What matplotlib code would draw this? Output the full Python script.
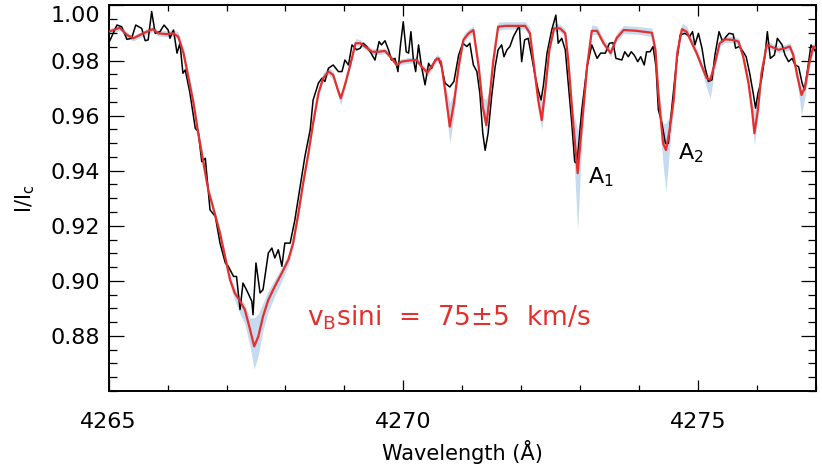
import matplotlib
matplotlib.use("Agg")
import matplotlib.pyplot as plt
import matplotlib.transforms as mtransforms
from matplotlib.ticker import MultipleLocator

# observed spectrum (black)
obs_wave = [4265.00, 4265.14, 4265.22, 4265.31, 4265.39, 4265.46, 4265.56, 4265.62,
            4265.67, 4265.73, 4265.79, 4265.87, 4265.94, 4266.01, 4266.04, 4266.10,
            4266.16, 4266.21, 4266.26, 4266.30, 4266.38, 4266.47, 4266.52, 4266.58,
            4266.64, 4266.72, 4266.81, 4266.89, 4266.98, 4267.03, 4267.12, 4267.17,
            4267.23, 4267.28, 4267.34, 4267.43, 4267.45, 4267.50, 4267.57, 4267.62,
            4267.71, 4267.77, 4267.82, 4267.88, 4267.94, 4267.99, 4268.08, 4268.16,
            4268.25, 4268.33, 4268.42, 4268.47, 4268.56, 4268.62, 4268.67, 4268.73,
            4268.81, 4268.90, 4268.96, 4269.01, 4269.07, 4269.13, 4269.21, 4269.27,
            4269.32, 4269.38, 4269.44, 4269.52, 4269.59, 4269.63, 4269.69, 4269.75,
            4269.80, 4269.86, 4269.91, 4269.95, 4270.00, 4270.05, 4270.09, 4270.13,
            4270.17, 4270.21, 4270.26, 4270.31, 4270.37, 4270.43, 4270.48, 4270.54,
            4270.60, 4270.65, 4270.71, 4270.79, 4270.86, 4270.94, 4271.01, 4271.08,
            4271.13, 4271.19, 4271.25, 4271.30, 4271.35, 4271.39, 4271.44, 4271.50,
            4271.56, 4271.61, 4271.67, 4271.71, 4271.76, 4271.81, 4271.87, 4271.93,
            4271.97, 4272.01, 4272.06, 4272.12, 4272.18, 4272.24, 4272.29, 4272.34,
            4272.38, 4272.44, 4272.52, 4272.59, 4272.63, 4272.69, 4272.75, 4272.80,
            4272.86, 4272.91, 4272.95, 4273.03, 4273.12, 4273.20, 4273.29, 4273.35,
            4273.43, 4273.50, 4273.56, 4273.61, 4273.71, 4273.76, 4273.82, 4273.87,
            4273.92, 4273.98, 4274.03, 4274.09, 4274.13, 4274.19, 4274.24, 4274.29,
            4274.33, 4274.39, 4274.45, 4274.50, 4274.56, 4274.63, 4274.70, 4274.78,
            4274.86, 4274.91, 4274.95, 4275.01, 4275.07, 4275.12, 4275.18, 4275.24,
            4275.29, 4275.36, 4275.42, 4275.48, 4275.53, 4275.60, 4275.64, 4275.70,
            4275.77, 4275.82, 4275.88, 4275.94, 4275.98, 4276.02, 4276.08, 4276.14,
            4276.18, 4276.23, 4276.30, 4276.35, 4276.43, 4276.48, 4276.54, 4276.60,
            4276.65, 4276.71, 4276.77, 4276.81, 4276.87, 4276.92, 4277.00]
obs_flux = [0.9863, 0.9929, 0.9923, 0.9877, 0.9881, 0.9929, 0.9917, 0.9872,
            0.9875, 0.9978, 0.9899, 0.9905, 0.9929, 0.9911, 0.9881, 0.9911,
            0.9827, 0.9863, 0.9754, 0.9766, 0.9681, 0.9554, 0.9542, 0.9433,
            0.9445, 0.9258, 0.9234, 0.9137, 0.9065, 0.9053, 0.9016, 0.9016,
            0.8896, 0.8992, 0.8967, 0.8926, 0.8877, 0.9065, 0.8956, 0.8968,
            0.9101, 0.9119, 0.9083, 0.9113, 0.9053, 0.9137, 0.9137, 0.9221,
            0.9343, 0.9451, 0.9548, 0.9657, 0.9718, 0.9736, 0.9724, 0.9772,
            0.9784, 0.9760, 0.9760, 0.9802, 0.9784, 0.9857, 0.9839, 0.9845,
            0.9863, 0.9851, 0.9832, 0.9802, 0.9869, 0.9857, 0.9872, 0.9839,
            0.9802, 0.9808, 0.9760, 0.9851, 0.9941, 0.9832, 0.9827, 0.9905,
            0.9808, 0.9760, 0.9857, 0.9778, 0.9712, 0.9790, 0.9772, 0.9802,
            0.9808, 0.9778, 0.9718, 0.9704, 0.9724, 0.9820, 0.9863, 0.9851,
            0.9863, 0.9784, 0.9760, 0.9681, 0.9536, 0.9474, 0.9536, 0.9669,
            0.9778, 0.9839, 0.9857, 0.9814, 0.9839, 0.9851, 0.9887, 0.9911,
            0.9926, 0.9796, 0.9875, 0.9881, 0.9814, 0.9742, 0.9693, 0.9657,
            0.9712, 0.9827, 0.9911, 0.9965, 0.9863, 0.9881, 0.9839, 0.9718,
            0.9573, 0.9432, 0.9427, 0.9621, 0.9778, 0.9857, 0.9808, 0.9827,
            0.9827, 0.9863, 0.9865, 0.9808, 0.9802, 0.9832, 0.9814, 0.9832,
            0.9820, 0.9796, 0.9814, 0.9784, 0.9832, 0.9832, 0.9851, 0.9778,
            0.9621, 0.9573, 0.9499, 0.9499, 0.9633, 0.9778, 0.9893, 0.9899,
            0.9887, 0.9905, 0.9857, 0.9899, 0.9845, 0.9778, 0.9724, 0.9730,
            0.9820, 0.9905, 0.9869, 0.9887, 0.9899, 0.9896, 0.9845, 0.9851,
            0.9832, 0.9814, 0.9754, 0.9681, 0.9627, 0.9681, 0.9730, 0.9820,
            0.9905, 0.9808, 0.9820, 0.9881, 0.9857, 0.9820, 0.9796, 0.9808,
            0.9784, 0.9778, 0.9718, 0.9693, 0.9778, 0.9857, 0.9832]

# best-fit model (red) with its uncertainty band (blue)
mod_wave = [4265.00, 4265.08, 4265.19, 4265.31, 4265.42, 4265.53, 4265.65, 4265.75,
            4265.84, 4265.98, 4266.10, 4266.18, 4266.27, 4266.35, 4266.44, 4266.52,
            4266.61, 4266.69, 4266.80, 4266.89, 4266.98, 4267.06, 4267.14, 4267.23,
            4267.31, 4267.40, 4267.47, 4267.54, 4267.62, 4267.71, 4267.82, 4267.94,
            4268.05, 4268.13, 4268.22, 4268.30, 4268.39, 4268.47, 4268.56, 4268.64,
            4268.73, 4268.81, 4268.88, 4268.94, 4269.01, 4269.10, 4269.19, 4269.27,
            4269.35, 4269.47, 4269.58, 4269.69, 4269.78, 4269.89, 4269.97, 4270.09,
            4270.23, 4270.31, 4270.41, 4270.48, 4270.57, 4270.64, 4270.71, 4270.79,
            4270.86, 4270.94, 4271.02, 4271.11, 4271.19, 4271.28, 4271.35, 4271.41,
            4271.46, 4271.53, 4271.61, 4271.73, 4271.93, 4272.07, 4272.15, 4272.22,
            4272.29, 4272.35, 4272.41, 4272.48, 4272.56, 4272.66, 4272.75, 4272.80,
            4272.88, 4272.96, 4273.03, 4273.12, 4273.20, 4273.29, 4273.40, 4273.52,
            4273.62, 4273.74, 4273.96, 4274.22, 4274.28, 4274.33, 4274.41, 4274.46,
            4274.52, 4274.59, 4274.65, 4274.73, 4274.81, 4274.90, 4274.98, 4275.07,
            4275.15, 4275.21, 4275.29, 4275.37, 4275.46, 4275.60, 4275.69, 4275.77,
            4275.86, 4275.92, 4275.96, 4276.02, 4276.08, 4276.17, 4276.26, 4276.37,
            4276.48, 4276.56, 4276.62, 4276.69, 4276.76, 4276.82, 4276.89, 4276.96,
            4277.01]
mod_flux = [0.9905, 0.9911, 0.9919, 0.9893, 0.9881, 0.9893, 0.9905, 0.9914,
            0.9899, 0.9896, 0.9899, 0.9887, 0.9827, 0.9742, 0.9645, 0.9536,
            0.9427, 0.9330, 0.9245, 0.9173, 0.9083, 0.9004, 0.8956, 0.8926,
            0.8896, 0.8823, 0.8762, 0.8798, 0.8871, 0.8931, 0.8980, 0.9029,
            0.9077, 0.9137, 0.9245, 0.9354, 0.9463, 0.9573, 0.9681, 0.9736,
            0.9760, 0.9748, 0.9700, 0.9663, 0.9712, 0.9784, 0.9863, 0.9863,
            0.9851, 0.9832, 0.9832, 0.9835, 0.9814, 0.9784, 0.9796, 0.9800,
            0.9802, 0.9778, 0.9756, 0.9778, 0.9808, 0.9796, 0.9693, 0.9560,
            0.9645, 0.9778, 0.9875, 0.9899, 0.9911, 0.9778, 0.9633, 0.9565,
            0.9657, 0.9802, 0.9923, 0.9926, 0.9926, 0.9926, 0.9899, 0.9778,
            0.9657, 0.9584, 0.9693, 0.9839, 0.9917, 0.9917, 0.9899, 0.9802,
            0.9584, 0.9391, 0.9560, 0.9778, 0.9908, 0.9908, 0.9863, 0.9827,
            0.9881, 0.9911, 0.9908, 0.9901, 0.9839, 0.9681, 0.9499, 0.9475,
            0.9547, 0.9657, 0.9827, 0.9914, 0.9905, 0.9863, 0.9827, 0.9778,
            0.9736, 0.9730, 0.9790, 0.9863, 0.9877, 0.9875, 0.9869, 0.9814,
            0.9718, 0.9621, 0.9536, 0.9621, 0.9754, 0.9857, 0.9849, 0.9839,
            0.9845, 0.9851, 0.9820, 0.9742, 0.9675, 0.9705, 0.9790, 0.9851,
            0.9845]
band_lo = [0.9895, 0.9901, 0.9909, 0.9883, 0.9871, 0.9883, 0.9895, 0.9904,
           0.9889, 0.9886, 0.9889, 0.9877, 0.9817, 0.9732, 0.9635, 0.9526,
           0.9417, 0.9320, 0.9235, 0.9160, 0.9065, 0.8985, 0.8930, 0.8880,
           0.8845, 0.8760, 0.8680, 0.8730, 0.8820, 0.8890, 0.8945, 0.9000,
           0.9055, 0.9120, 0.9230, 0.9340, 0.9450, 0.9560, 0.9668, 0.9725,
           0.9748, 0.9733, 0.9680, 0.9638, 0.9695, 0.9772, 0.9853, 0.9853,
           0.9841, 0.9822, 0.9822, 0.9825, 0.9804, 0.9774, 0.9786, 0.9790,
           0.9792, 0.9766, 0.9742, 0.9766, 0.9796, 0.9780, 0.9665, 0.9499,
           0.9600, 0.9760, 0.9863, 0.9887, 0.9897, 0.9760, 0.9600, 0.9540,
           0.9630, 0.9785, 0.9910, 0.9914, 0.9914, 0.9914, 0.9885, 0.9760,
           0.9630, 0.9547, 0.9665, 0.9825, 0.9905, 0.9905, 0.9885, 0.9780,
           0.9520, 0.9186, 0.9500, 0.9760, 0.9895, 0.9895, 0.9850, 0.9815,
           0.9868, 0.9898, 0.9896, 0.9888, 0.9820, 0.9650, 0.9420, 0.9324,
           0.9480, 0.9630, 0.9810, 0.9900, 0.9892, 0.9850, 0.9812, 0.9760,
           0.9700, 0.9663, 0.9770, 0.9850, 0.9866, 0.9864, 0.9857, 0.9800,
           0.9695, 0.9580, 0.9493, 0.9590, 0.9735, 0.9845, 0.9838, 0.9828,
           0.9834, 0.9838, 0.9805, 0.9715, 0.9602, 0.9670, 0.9770, 0.9838,
           0.9832]
band_hi = [0.9915, 0.9921, 0.9929, 0.9903, 0.9891, 0.9903, 0.9915, 0.9924,
           0.9910, 0.9908, 0.9912, 0.9903, 0.9848, 0.9765, 0.9668, 0.9556,
           0.9445, 0.9345, 0.9258, 0.9185, 0.9095, 0.9018, 0.8975, 0.8940,
           0.8915, 0.8865, 0.8866, 0.8880, 0.8920, 0.8965, 0.9005, 0.9050,
           0.9095, 0.9155, 0.9265, 0.9372, 0.9480, 0.9590, 0.9700, 0.9755,
           0.9775, 0.9762, 0.9712, 0.9675, 0.9725, 0.9800, 0.9880, 0.9876,
           0.9863, 0.9843, 0.9843, 0.9846, 0.9825, 0.9795, 0.9807, 0.9811,
           0.9813, 0.9790, 0.9768, 0.9792, 0.9822, 0.9812, 0.9712, 0.9646,
           0.9680, 0.9800, 0.9895, 0.9915, 0.9925, 0.9800, 0.9665, 0.9660,
           0.9690, 0.9820, 0.9940, 0.9941, 0.9941, 0.9941, 0.9920, 0.9800,
           0.9680, 0.9650, 0.9720, 0.9860, 0.9935, 0.9932, 0.9915, 0.9820,
           0.9620, 0.9547, 0.9620, 0.9800, 0.9930, 0.9925, 0.9880, 0.9845,
           0.9900, 0.9928, 0.9924, 0.9918, 0.9860, 0.9710, 0.9570, 0.9573,
           0.9600, 0.9690, 0.9850, 0.9935, 0.9925, 0.9880, 0.9842, 0.9792,
           0.9750, 0.9745, 0.9805, 0.9877, 0.9890, 0.9888, 0.9882, 0.9830,
           0.9740, 0.9650, 0.9620, 0.9650, 0.9775, 0.9872, 0.9862, 0.9852,
           0.9858, 0.9865, 0.9835, 0.9760, 0.9695, 0.9725, 0.9805, 0.9866,
           0.9860]

x_ticks = [4265, 4270, 4275]
y_ticks = [0.88, 0.90, 0.92, 0.94, 0.96, 0.98, 1.00]

red = "#e3302d"
blue = "#c6dbef"

plt.rcParams["font.family"] = ["DejaVu Sans"]

fig = plt.figure(figsize=(8.22, 4.70), dpi=100)
ax = fig.add_axes([0.1322, 0.1681, 0.8601, 0.8202])

ax.fill_between(mod_wave, band_lo, band_hi, color=blue, lw=0, zorder=1)
ax.plot(obs_wave, obs_flux, color="black", lw=1.1, zorder=2)
ax.plot(mod_wave, mod_flux, color=red, lw=1.6, zorder=3)

ax.set_xlim(4265, 4277)
ax.set_ylim(0.86, 1.00)
ax.set_xticks(x_ticks)
ax.set_yticks(y_ticks)
ax.set_yticklabels([f"{v:.2f}" for v in y_ticks])
ax.xaxis.set_minor_locator(MultipleLocator(1))
ax.yaxis.set_minor_locator(MultipleLocator(0.005))

ax.tick_params(axis="both", which="both", direction="in", top=True, right=True,
               width=0.9, labelsize=16)
ax.tick_params(axis="x", which="major", length=8, pad=15)
ax.tick_params(axis="x", which="minor", length=4.5)
ax.tick_params(axis="y", which="major", length=10.5, pad=6)
ax.tick_params(axis="y", which="minor", length=5.5)
for sp in ax.spines.values():
    sp.set_linewidth(1.4)

# top label sits a bit lower in the original
top_lab = ax.yaxis.get_major_ticks()[-1].label1
top_lab.set_transform(top_lab.get_transform() +
                      mtransforms.ScaledTranslation(0, -9 / 100, fig.dpi_scale_trans))

ax.set_xlabel("Wavelength (Å)", fontsize=15, labelpad=6)
ax.set_ylabel(r"I/I$_\mathregular{c}$", fontsize=15, labelpad=10)

ax.text(4273.14, 0.9355, r"A$_\mathregular{1}$", fontsize=16, ha="left", va="baseline")
ax.text(4274.66, 0.9440, r"A$_\mathregular{2}$", fontsize=16, ha="left", va="baseline")
ax.text(4268.37, 0.8839, r"v$_\mathregular{B}$sini  =  75$\pm$5  km/s", color=red,
        fontsize=19, ha="left", va="baseline")

fig.savefig("out.png", dpi=100)
